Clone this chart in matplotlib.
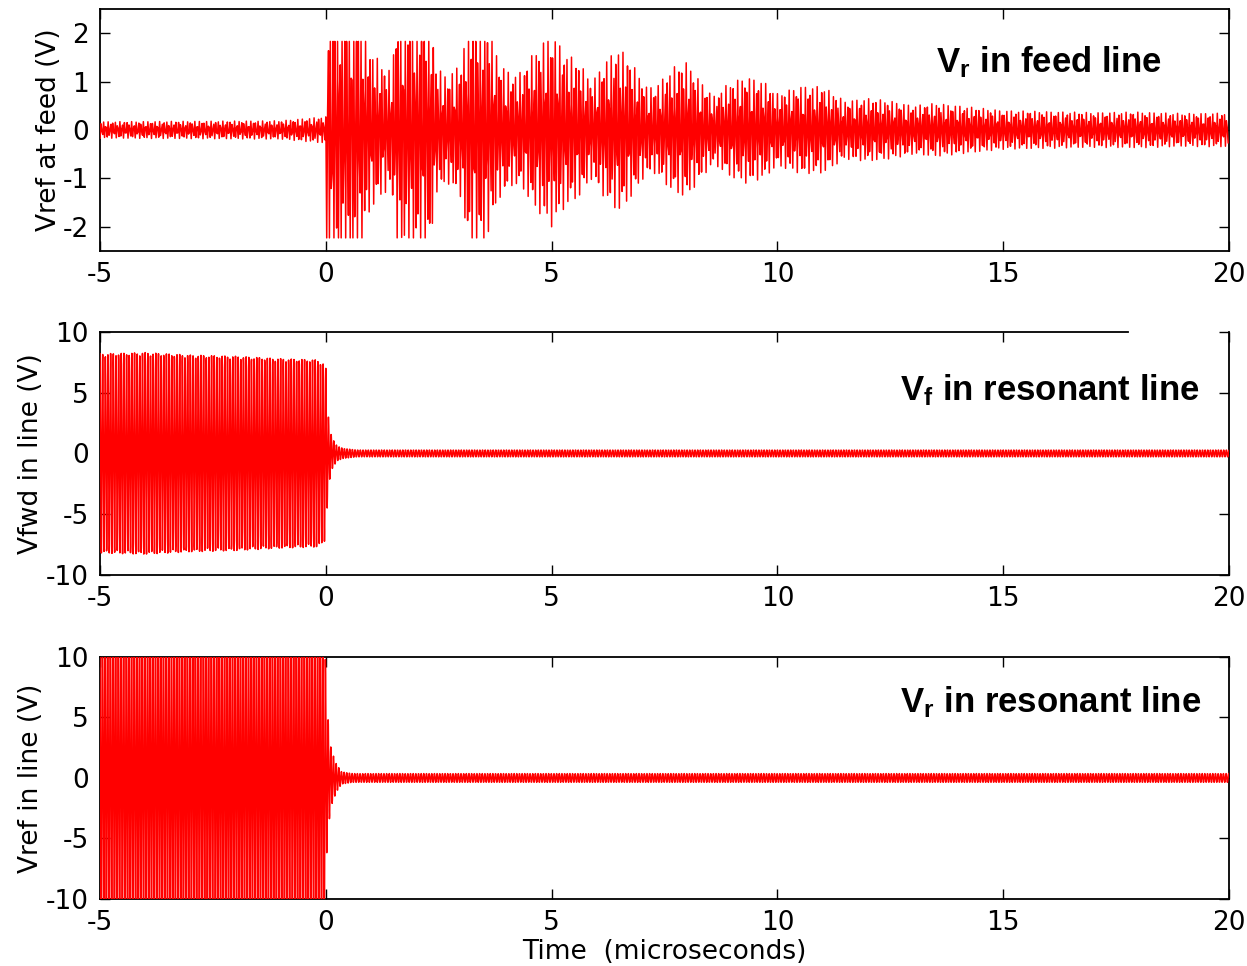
import numpy as np
import matplotlib
matplotlib.use("Agg")
import matplotlib.pyplot as plt

# Envelope of reflected voltage at the feed (V), knots in microseconds
FEED_T = [-5.0, -3.0, -1.0, -0.05, 0.0, 0.02, 0.7, 0.9, 1.2, 1.45, 1.6, 2.3,
          2.45, 2.7, 3.0, 3.15, 3.5, 3.85, 4.1, 4.35, 4.6, 5.0, 5.3, 5.6,
          5.9, 6.2, 6.5, 6.8, 7.1, 7.3, 7.7, 8.0, 8.3, 8.6, 8.9, 9.3, 9.7,
          10.0, 10.5, 11.0, 11.5, 12.0, 12.5, 13.0, 13.5, 14.0, 14.5, 15.0,
          16.0, 17.0, 18.0, 19.0, 20.0]
FEED_AMP = [0.17, 0.18, 0.19, 0.27, 0.27, 3.0, 3.0, 1.8, 1.4, 1.2, 2.5, 2.5,
            1.3, 1.1, 1.4, 2.4, 2.4, 1.4, 1.15, 1.2, 1.6, 2.0, 1.6, 1.4,
            1.0, 1.45, 1.7, 1.35, 0.9, 0.9, 1.3, 1.4, 1.0, 0.7, 0.95, 1.1, 1.0,
            0.75, 0.9, 0.9, 0.6, 0.65, 0.6, 0.5, 0.55, 0.5, 0.45, 0.4,
            0.38, 0.36, 0.37, 0.34, 0.35]
FEED_RAIL = (-2.23, 1.83)   # scope saturation levels (V)

# Envelope of forward voltage in the resonant line (V)
FWD_T = [-5.0, -4.0, -3.0, -2.0, -1.0, -0.2, -0.05, 0.0, 0.03, 0.06, 0.1,
         0.15, 0.25, 0.4, 0.7, 20.0]
FWD_AMP = [8.2, 8.3, 8.1, 8.0, 7.8, 7.7, 7.4, 7.0, 4.5, 3.0, 1.8,
           1.2, 0.6, 0.4, 0.28, 0.28]

# Envelope of reflected voltage in the resonant line (V)
REF_T = [-5.0, -0.02, 0.0, 0.03, 0.07, 0.12, 0.23, 0.35, 0.6, 20.0]
REF_AMP = [14.0, 14.0, 7.0, 6.2, 3.7, 2.3, 1.2, 0.5, 0.36, 0.36]

FEED_CARRIER = 19.3   # MHz
LINE_CARRIER = 17.0   # MHz

XTICKS = [-5, 0, 5, 10, 15, 20]

plt.rcParams["font.family"] = ["DejaVu Sans"]
plt.rcParams["mathtext.fontset"] = "custom"
plt.rcParams["mathtext.rm"] = "Liberation Sans:bold"
plt.rcParams["mathtext.bf"] = "Liberation Sans:bold"

t_feed = np.arange(-5.0, 20.0, 0.02)
v_feed = np.interp(t_feed, FEED_T, FEED_AMP) * np.cos(2 * np.pi * FEED_CARRIER * t_feed)
v_feed = np.clip(v_feed, *FEED_RAIL)

t_line = np.arange(-5.0, 20.0, 0.005)
v_fwd = np.interp(t_line, FWD_T, FWD_AMP) * np.cos(2 * np.pi * LINE_CARRIER * t_line)
v_ref = np.interp(t_line, REF_T, REF_AMP) * np.cos(2 * np.pi * LINE_CARRIER * t_line + 0.7)

fig = plt.figure(figsize=(12.47, 9.66), dpi=100)
ax1 = fig.add_axes([0.0802, 0.7402, 0.9054, 0.2505])
ax2 = fig.add_axes([0.0802, 0.4048, 0.9054, 0.2516])
ax3 = fig.add_axes([0.0802, 0.0694, 0.9054, 0.2505])

panels = [
    (ax1, t_feed, v_feed, (-2.5, 2.5), [-2, -1, 0, 1, 2], "Vref at feed (V)",
     r"$\mathbf{V_r}$ in feed line", 0.9407, 0.74, -0.034),
    (ax2, t_line, v_fwd, (-10, 10), [-10, -5, 0, 5, 10], "Vfwd in line (V)",
     r"$\mathbf{V_f}$ in resonant line", 0.974, 0.72, -0.050),
    (ax3, t_line, v_ref, (-10, 10), [-10, -5, 0, 5, 10], "Vref in line (V)",
     r"$\mathbf{V_r}$ in resonant line", 0.975, 0.773, -0.050),
]

for ax, t, v, ylim, yticks, ylabel, note, nx, ny, lx in panels:
    ax.plot(t, v, color="red", lw=1.1, zorder=3)
    ax.set_xlim(-5, 20)
    ax.set_ylim(*ylim)
    ax.set_xticks(XTICKS)
    ax.set_xticklabels([str(x) for x in XTICKS])
    ax.set_yticks(yticks)
    ax.set_yticklabels([str(y) for y in yticks])
    ax.tick_params(direction="in", length=7, width=1.0, labelsize=19, pad=8,
                   top=True, right=True)
    for s in ax.spines.values():
        s.set_linewidth(1.3)
    ax.set_ylabel(ylabel, fontsize=19)
    ax.yaxis.set_label_coords(lx, 0.5)
    ax.text(nx, ny, note, transform=ax.transAxes, ha="right", va="baseline",
            fontsize=25, fontweight="bold", family="Liberation Sans")

# the forward-voltage frame is open at its top right corner
ax2.spines["top"].set_bounds(-5, 17.76)

ax3.set_xlabel("Time  (microseconds)", fontsize=19, labelpad=2)

fig.savefig("out.png", dpi=100)
